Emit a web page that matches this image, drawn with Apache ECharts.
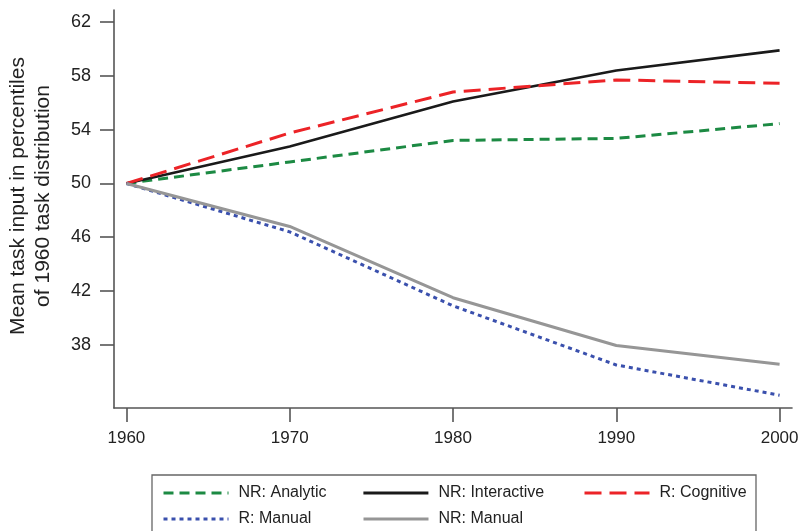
<!DOCTYPE html>
<html>
<head>
<meta charset="utf-8">
<script src="https://cdn.jsdelivr.net/npm/echarts@6/dist/echarts.min.js"></script>
<style>html,body{margin:0;padding:0;background:#fff}#c{width:800px;height:531px}</style>
</head>
<body>
<div id="c"></div>
<script>
var years = [1960, 1970, 1980, 1990, 2000];
var nrAnalytic = [50, 51.6, 53.2, 53.35, 54.45];
var nrInteractive = [50, 52.75, 56.1, 58.4, 59.9];
var rCognitive = [50, 53.75, 56.8, 57.7, 57.45];
var rManual = [50, 46.4, 40.9, 36.5, 34.25];
var nrManual = [50, 46.8, 41.5, 37.95, 36.55];
var yTicks = [38, 42, 46, 50, 54, 58, 62];
var xTicks = [1960, 1970, 1980, 1990, 2000];
var yTitle = 'Mean task input in percentiles\nof 1960 task distribution';
var legendNames = ['NR: Analytic', 'NR: Interactive', 'R: Cognitive', 'R: Manual', 'NR: Manual'];

var FONT = 'Liberation Sans, Arial, Helvetica, sans-serif';
function pairs(v){ return years.map(function(y,i){ return [y, v[i]]; }); }
function mk(name, vals, color, type, width){
  return { name: name, type: 'line', data: pairs(vals), symbol: 'none', silent: true,
    lineStyle: { color: color, type: type, width: width, cap: 'butt' }, itemStyle: { color: color } };
}
var legendPos = [[162, 485], [362, 485], [583, 485], [162, 511], [362, 511]];
var legendW = [3, 2.8, 3, 3, 3];
var legends = legendNames.map(function(n, i){
  return { data: [n], orient: 'horizontal', left: legendPos[i][0], top: legendPos[i][1], itemWidth: 65, itemHeight: 16,
    itemGap: 10, padding: 0, selectedMode: false, itemStyle: { opacity: 0, borderWidth: 0 },
    lineStyle: { width: legendW[i] },
    textStyle: { fontSize: 16, color: '#222', fontFamily: FONT, padding: [0, 0, 0, 5] } };
});
var chart = echarts.init(document.getElementById('c'));
chart.setOption({
  animation: false,
  backgroundColor: '#fff',
  grid: { left: 114, right: 8, top: 10, bottom: 123, containLabel: false, outerBoundsMode: 'none' },
  xAxis: {
    type: 'value', min: 1959.24, max: 2000.76,
    axisLine: { show: true, lineStyle: { color: '#555', width: 1.6 } },
    axisTick: { show: true, length: 14, customValues: xTicks, lineStyle: { color: '#555', width: 1.6 } },
    axisLabel: { customValues: xTicks, margin: 22, fontSize: 17, color: '#222', fontFamily: FONT,
      formatter: function(v){ return String(v); } },
    splitLine: { show: false }
  },
  yAxis: {
    type: 'value', min: 33.3, max: 62.9,
    axisLine: { show: true, lineStyle: { color: '#555', width: 1.6 } },
    axisTick: { show: true, length: 14, customValues: yTicks, lineStyle: { color: '#555', width: 1.6 } },
    axisLabel: { customValues: yTicks, margin: 23, fontSize: 18, color: '#222', fontFamily: FONT,
      formatter: function(v){ return String(v); } },
    splitLine: { show: false }
  },
  legend: legends,
  graphic: [
    { type: 'rect', shape: { x: 152, y: 475, width: 604, height: 80 }, z: -1,
      style: { fill: 'none', stroke: '#666', lineWidth: 1.3 } },
    { type: 'text', x: 31, y: 196, rotation: Math.PI / 2,
      style: { text: yTitle, font: '21px ' + FONT, fill: '#222', align: 'center', verticalAlign: 'middle', lineHeight: 25 } }
  ],
  series: [
    mk('NR: Analytic', nrAnalytic, '#1c8a43', [10, 6], 3),
    mk('NR: Interactive', nrInteractive, '#1a1a1a', 'solid', 2.6),
    mk('R: Cognitive', rCognitive, '#ec2327', [17, 8], 3),
    mk('R: Manual', rManual, '#3a50ad', [4, 4], 3),
    mk('NR: Manual', nrManual, '#969696', 'solid', 3)
  ]
});
</script>
</body>
</html>
